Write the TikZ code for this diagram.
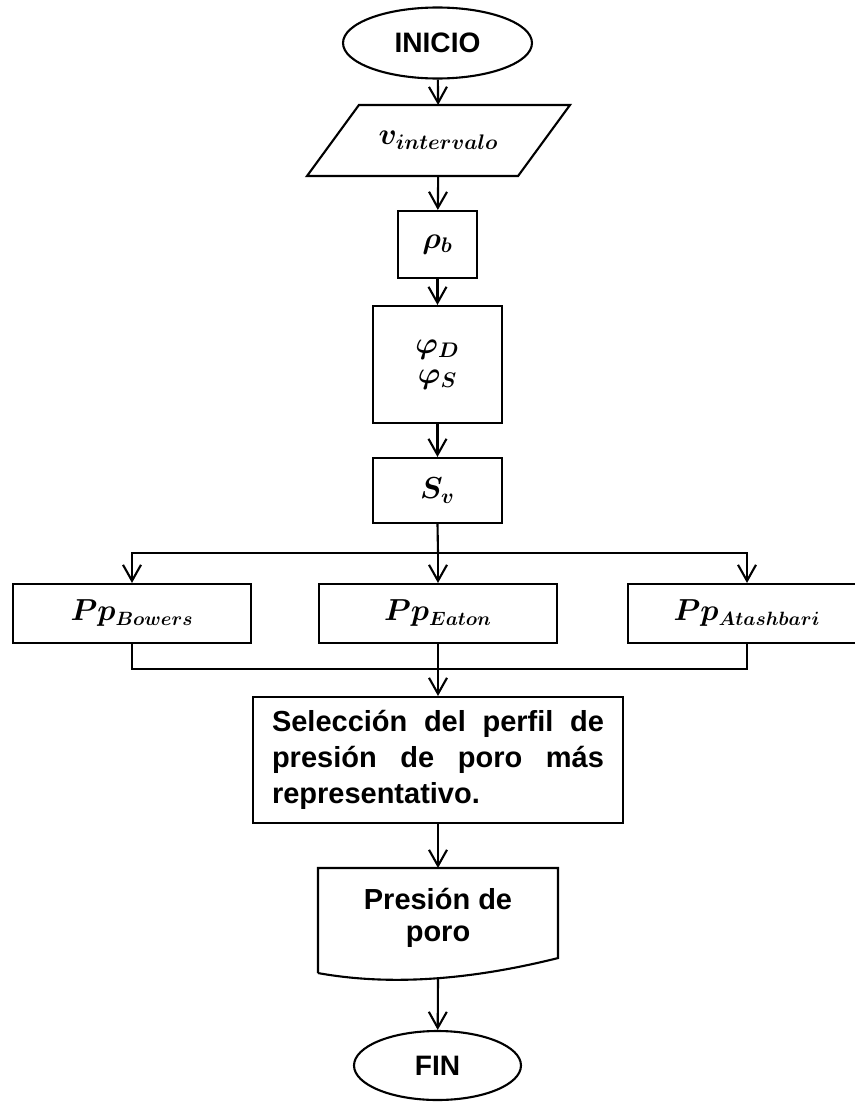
\documentclass[tikz,border=0pt]{standalone}
\usepackage{fontspec}
\setmainfont{Liberation Sans}
\usepackage{amsmath, amssymb}
\usetikzlibrary{shapes.geometric, arrows.meta}
\DeclareMathSizes{17}{17}{11.5}{8}
\DeclareMathSizes{16}{16}{10.5}{7}

\begin{document}
\begin{tikzpicture}[x = 0.02cm, y = -0.02cm, -{Straight Barb[length=3.2mm, width=3.6mm]}, line width = 1.2pt,
        caja/.style ={draw, rectangle, inner sep = 0pt, font = \fontsize{17}{20}\selectfont},
        terminal/.style ={draw, ellipse, inner sep = 0pt, font = \bfseries\fontsize{16}{19}\selectfont},
        texto/.style ={inner sep = 0pt, font = \bfseries\fontsize{16.5}{20.5}\selectfont}]

        \useasboundingbox (0, 0) rectangle (855, 1102);

        %\node [estilo] (nombre) at (x, y) {};
        \node[terminal, minimum width = 3.78cm, minimum height = 1.42cm] (ini) at (437.5, 43) {INICIO};
        \node[inner sep = 0pt, minimum width = 4.18cm, minimum height = 1.38cm, font = \fontsize{17}{20}\selectfont] (vin) at (438.5, 140.5) {$\boldsymbol{v_{intervalo}}$};
        \node[caja, minimum width = 1.58cm, minimum height = 1.34cm] (rho) at (437.5, 244.5) {$\boldsymbol{\rho_b}$};
        \node[caja, minimum width = 2.58cm, minimum height = 2.34cm, align = center, font = \fontsize{17}{17}\selectfont] (phi) at (437.5, 364.5) {$\boldsymbol{\varphi_D}$\\$\boldsymbol{\varphi_S}$};
        \node[caja, minimum width = 2.58cm, minimum height = 1.30cm] (sv) at (437.5, 490.5) {$\boldsymbol{S_v}$};
        % tres metodos
        \node[caja, minimum width = 4.76cm, minimum height = 1.18cm, font = \fontsize{16}{19}\selectfont] (bow) at (132, 613.5) {$\boldsymbol{Pp_{Bowers}}$};
        \node[caja, minimum width = 4.76cm, minimum height = 1.18cm, font = \fontsize{16}{19}\selectfont] (eat) at (438, 613.5) {$\boldsymbol{Pp_{Eaton}}$};
        \node[caja, minimum width = 4.76cm, minimum height = 1.18cm, font = \fontsize{16}{19}\selectfont] (ata) at (747, 613.5) {$\boldsymbol{Pp_{Atashbari}}$};
        \node[texto, draw, minimum width = 7.40cm, minimum height = 2.52cm, text width = 6.64cm, align = justify] (sel) at (438, 760)
            {Selección del perfil de\linebreak presión de poro más\linebreak representativo.};
        \node[texto, minimum width = 4.76cm, minimum height = 2.06cm, align = center, font = \bfseries\fontsize{16.5}{18}\selectfont] (pres) at (438, 918) {Presión de\\poro};
        \node[terminal, minimum width = 3.34cm, minimum height = 1.38cm] (fin) at (437.5, 1065.5) {FIN};

        % paralelogramo de entrada
        \draw[-] ([xshift = 0.52cm]vin.north west) -- ([xshift = 0.52cm]vin.north east)
            -- ([xshift = -0.52cm]vin.south east) -- ([xshift = -0.52cm]vin.south west) -- cycle;
        % documento
        \draw[-] ([yshift = -0.05cm]pres.south west) -- ([yshift = -0.05cm]pres.north west) -- ([yshift = -0.05cm]pres.north east)
            -- ([yshift = 0.25cm]pres.south east) .. controls (470, 980) and (390, 986) .. ([yshift = -0.05cm]pres.south west);

        \coordinate (br) at (438, 553);
        \coordinate (jn) at (438, 669);

        \path (ini) edge (vin);
        \path (vin) edge (rho);
        \path (rho) edge (phi);
        \path (phi) edge (sv);

        \draw[-] (sv.south) -- (br);
        \draw (br) -| (bow.north);
        \draw (br) -- (eat.north);
        \draw (br) -| (ata.north);

        \draw[-] (bow.south) |- (jn);
        \draw[-] (ata.south) |- (jn);
        \draw (eat.south) -- (sel.north);

        \path (sel) edge ([yshift = -0.05cm]pres.north);
        \path ([yshift = -0.15cm]pres.south) edge (fin);
    \end{tikzpicture}
\end{document}
